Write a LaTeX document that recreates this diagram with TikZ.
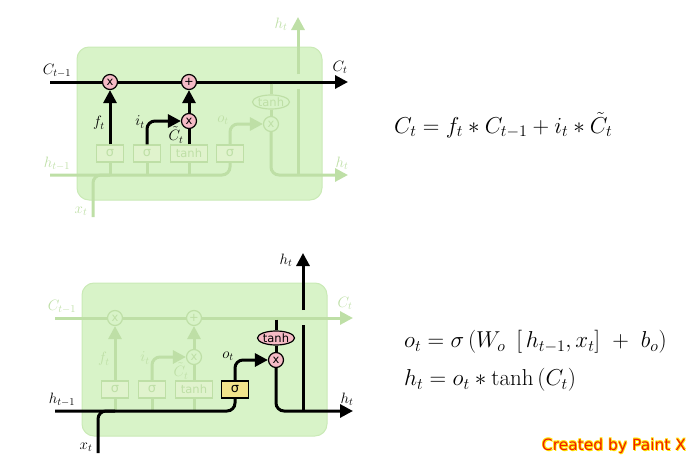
\RequirePackage{fix-cm}
\documentclass[tikz,border=0pt]{standalone}
\usepackage{amsmath}
\usepackage{fontspec}
\newfontfamily\sansfam{DejaVu Sans}
\usetikzlibrary{arrows.meta,positioning,calc,shapes.geometric}

\definecolor{cellbg}{RGB}{216,243,200}
\definecolor{cellrim}{RGB}{202,234,182}
\definecolor{fadeln}{RGB}{190,223,166}
\definecolor{fadebox}{RGB}{224,243,205}
\definecolor{oppink}{RGB}{245,187,198}
\definecolor{gateyel}{RGB}{242,228,140}
\definecolor{paintred}{RGB}{240,30,0}
\definecolor{paintyel}{RGB}{255,228,0}

\tikzset{
  hi line/.style={draw=black,line width=3pt},
  lo line/.style={draw=fadeln,line width=3pt},
  hi op/.style={fill=oppink,draw=black,text=black},
  lo op/.style={fill=cellbg,draw=fadeln,text=fadeln},
  hi box/.style={fill=gateyel,draw=black,text=black},
  lo box/.style={fill=fadebox,draw=fadeln,text=fadeln},
  hi lbl/.style={text=black},
  lo lbl/.style={text=fadeln},
  lit/.style={#1 line/.style={hi line},#1 op/.style={hi op},#1 lbl/.style={hi lbl},#1 box/.style={hi box}},
  dim/.style={#1 line/.style={lo line},#1 op/.style={lo op},#1 lbl/.style={lo lbl},#1 box/.style={lo box}},
}

% one LSTM cell, drawn in pixel units
\newcommand{\lstmcell}{%
  \draw[cellbox] (77,47) rectangle (322,200);
  \coordinate (cin) at (50,82);
  \coordinate (cout) at (348,82);
  \coordinate (hin) at (50,175);
  \coordinate (xin) at (93,217);
  \coordinate (hout) at (348,175);
  \coordinate (hsplit) at (298,175);
  \coordinate (hup) at (298,17);
  % layers
  \node[gate,lo box] (sf) at (110,153.5) {σ};
  \node[gate,lo box] (si) at (147,153.5) {σ};
  \node[gate,lo box,minimum width=37pt,font=\sansfam\fontsize{11.5}{12}\selectfont] (tc) at (189,153.5) {tanh};
  \node[gate,O box] (so) at (230,153.5) {σ};
  % pointwise ops
  \node[op,C op] (mf) at (110,82) {x};
  \node[op,C op] (pc) at (189,82) {+};
  \node[op,G op] (mi) at (189,121) {x};
  \node[op,O op] (mo) at (271,124) {x};
  \node[op,O op,ellipse,minimum width=37pt,minimum height=14pt] (th) at (271,102) {tanh};
  % inputs
  \draw[lo line] (sf.south) -- (sf.south |- hin) (si.south) -- (si.south |- hin) (tc.south) -- (tc.south |- hin);
  \draw[O line,rounded corners=8] (hin) -| (so.south);
  \draw[O line,rounded corners=8] (xin) |- (sf.south |- hin);
  % cell state
  \draw[C line] (cin) -- (mf.west) (mf.east) -- (pc.west);
  \draw[C line,->] (pc.east) -- (cout);
  % forget / input / candidate
  \draw[G line,->] (sf.north) -- (mf.south);
  \draw[G line,->,rounded corners=8] (si.north) |- (mi.west);
  \draw[G line] (tc.north) -- (mi.south);
  \draw[G line,->] (mi.north) -- (pc.south);
  % output
  \draw[O line,->,rounded corners=8] (so.north) |- (mo.west);
  \draw[O line] ($(th.north |- cin)+(0,1.5)$) -- (th.north) (th.south) -- (mo.north);
  \draw[O line,->,rounded corners=8] (mo.south) |- (hout);
  \draw[O line] (hsplit) -- ($(hsplit |- cin)+(0,7)$);
  \draw[O line,->] ($(hsplit |- cin)+(0,-8)$) -- (hup);
  % labels
  \node[lbl,C lbl] (lcin) at (57,71) {$C_{t-1}$};
  \node[lbl,C lbl] (lcout) at (340,67) {$C_t$};
  \node[lbl,G lbl] (lf) at (99,123) {$f_t$};
  \node[lbl,G lbl] (li) at (140,122) {$i_t$};
  \node[lbl,G lbl] (lct) at (176,135) {$\tilde{C}_t$};
  \node[lbl,O lbl] (lo) at (223,120) {$o_t$};
  \node[lbl,O lbl] (lhin) at (57,164) {$h_{t-1}$};
  \node[lbl,O lbl] (lx) at (81,211) {$x_t$};
  \node[lbl,O lbl] (lhout) at (342,163) {$h_t$};
  \node[lbl,O lbl] (lhup) at (281,24) {$h_t$};
}

\begin{document}
\begin{tikzpicture}[x=1pt,y=-1pt,>={Triangle[length=13pt,width=13pt]},
  cellbox/.style={fill=cellbg,draw=cellrim,line width=1pt,rounded corners=12},
  gate/.style={rectangle,minimum width=27pt,minimum height=17pt,inner sep=0,line width=1.2pt,font=\sansfam\fontsize{13}{13}\selectfont},
  op/.style={circle,minimum size=15pt,inner sep=0,line width=1.2pt,font=\sansfam\fontsize{11.5}{12}\selectfont},
  lbl/.style={inner sep=0,font=\fontsize{15}{17}\selectfont},
  eq/.style={inner sep=0,anchor=west,font=\fontsize{23}{27}\selectfont},
  paint/.style={inner sep=0,font=\sansfam\fontsize{15.5}{18}\selectfont}]
  \useasboundingbox (0,0) rectangle (694,463);

  % cell state update
  \begin{scope}[lit=C,lit=G,dim=O,name prefix=top-]
    \lstmcell
  \end{scope}
  % output gate
  \begin{scope}[shift={(5,236)},dim=C,dim=G,lit=O,name prefix=bot-]
    \lstmcell
  \end{scope}

  \node[eq] (eqc) at (394,125) {$C_t = f_t * C_{t-1} + i_t * \tilde{C}_t$};
  \node[eq] (eqo) at (404,342) {$o_t = \sigma\left(W_o\ \left[\,h_{t-1},x_t\right]\ +\ b_o\right)$};
  \node[eq] (eqh) at (404,380) {$h_t = o_t * \tanh\left(C_t\right)$};

  \foreach \dx/\dy [count=\i] in {0.8/0.8,-0.6/0.6,0.6/-0.6,-0.6/-0.6}
    \node[paint,text=paintyel] (glow\i) at ($(614,446)+(\dx,\dy)$) {Created by Paint X};
  \node[paint,text=paintred] (credit) at (614,446) {Created by Paint X};
\end{tikzpicture}
\end{document}
